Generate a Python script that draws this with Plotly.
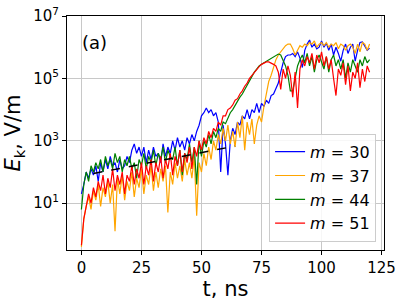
import plotly.graph_objects as go

# time axis, ns
t_ns = list(range(0, 121))

# log10 of E_k (V/m)
log_e_m30 = [1.3, 1.6, 2.0, 1.8, 2.1, 1.9, 2.2, 1.7, 2.3, 2.0,
             2.4, 2.1, 2.5, 2.2, 2.3, 2.0, 2.4, 2.1, 2.2, 2.5,
             2.3, 2.7, 2.9, 2.6, 2.8, 2.5, 2.8, 2.3, 2.7, 2.4,
             2.8, 2.5, 2.6, 2.3, 2.9, 2.5, 2.8, 2.6, 3.0, 2.7,
             3.1, 2.8, 3.0, 2.7, 3.1, 2.9, 3.2, 3.0, 3.3, 3.5,
             3.8, 3.9, 4.05, 3.9, 4.0, 3.8, 3.9, 3.6, 2.0, 3.5,
             2.9, 1.9, 3.0, 3.4, 3.2, 3.6, 3.5, 3.8, 3.7, 4.0,
             3.7, 4.0, 3.9, 4.2, 3.9, 4.2, 4.1, 4.3, 4.2, 4.45,
             4.5, 4.65, 4.85, 5.2, 5.5, 5.7, 5.75, 5.75, 5.8, 5.7,
             5.85, 5.65, 5.35, 5.9, 6.1, 6.23, 6.0, 6.1, 5.95, 6.0,
             6.2, 6.0, 6.13, 5.9, 6.1, 5.75, 6.0, 5.8, 5.55, 5.9,
             6.1, 5.8, 6.0, 6.1, 5.55, 5.9, 6.15, 6.17, 6.05, 5.9,
             5.97]
log_e_m37 = [-0.4, 0.5, 0.9, 1.2, 0.8, 1.4, 1.1, 1.6, 0.9, 1.5,
             1.2, 1.7, 1.0, 1.6, 0.1, 1.8, 1.3, 1.9, 1.1, 1.7,
             1.4, 2.0, 1.2, 1.8, 1.5, 2.1, 1.3, 1.9, 1.6, 2.2,
             1.4, 2.0, 1.5, 2.1, 1.7, 2.2, 0.7, 2.0, 1.6, 2.3,
             1.8, 2.2, 1.7, 2.4, 1.9, 2.3, 1.8, 2.5, 0.6, 2.3,
             2.0, 2.6, 2.2, 2.8, 2.4, 3.0, 2.7, 3.2, 2.9, 3.4,
             3.0, 3.5, 2.9, 3.3, 2.8, 3.6, 3.1, 3.8, 2.7, 3.6,
             3.2, 3.7, 2.9, 3.5, 3.8, 3.6, 4.1, 4.5, 4.9, 5.1,
             5.35, 5.6, 5.75, 5.85, 5.95, 6.05, 6.1, 6.1, 5.95, 5.75,
             5.9, 6.05, 6.0, 6.1, 6.05, 6.15, 6.1, 6.2, 6.0, 6.1,
             6.15, 6.05, 6.15, 6.0, 6.1, 6.05, 6.15, 5.95, 6.1, 6.05,
             5.9, 6.05, 6.1, 6.0, 5.8, 6.1, 5.85, 6.15, 6.1, 5.9,
             6.1]
log_e_m44 = [0.8, 1.6, 2.0, 1.7, 2.2, 2.0, 2.3, 2.1, 2.4, 2.0,
             2.5, 2.2, 2.4, 2.1, 2.6, 2.3, 2.5, 2.0, 2.4, 2.2,
             2.5, 2.1, 2.3, 1.8, 2.4, 2.2, 2.6, 2.1, 2.5, 2.3,
             2.7, 2.2, 2.6, 2.4, 2.8, 2.3, 2.7, 2.5, 2.4, 2.8,
             2.2, 2.7, 1.9, 2.6, 2.4, 2.9, 2.3, 2.8, 1.6, 3.0,
             2.5, 3.0, 2.8, 3.2, 2.9, 3.3, 3.1, 3.4, 3.3, 3.6,
             3.55, 3.75, 3.9, 4.0, 4.15, 4.25, 4.4, 4.5, 4.65, 4.8,
             4.95, 5.05, 5.2, 5.3, 5.4, 5.45, 5.5, 5.55, 5.6, 5.65,
             5.7, 5.75, 5.78, 5.75, 5.6, 5.4, 5.1, 4.6, 4.6, 5.0,
             5.4, 5.6, 5.75, 5.5, 5.8, 5.4, 5.7, 5.2, 5.6, 5.75,
             5.5, 5.3, 5.7, 5.2, 5.6, 5.75, 5.4, 5.6, 5.3, 5.6,
             5.0, 5.5, 5.2, 5.6, 5.4, 5.2, 5.6, 5.4, 5.7, 5.5,
             5.6]
log_e_m51 = [-0.35, 0.5, 0.9, 1.3, 1.0, 1.5, 1.2, 1.7, 1.4, 1.9,
             1.3, 1.8, 1.5, 2.1, 1.4, 1.9, 1.6, 2.0, 1.3, 1.9,
             1.7, 2.2, 1.6, 2.1, 1.8, 2.3, 1.6, 2.2, 1.9, 2.4,
             1.7, 2.3, 2.0, 2.5, 1.8, 2.4, 2.1, 2.6, 1.9, 2.5,
             2.2, 2.7, 2.0, 2.6, 2.3, 2.8, 2.1, 2.8, 2.5, 3.0,
             2.7, 3.1, 2.9, 3.3, 3.1, 3.4, 3.3, 3.6, 3.5, 3.8,
             3.8, 4.0, 4.05, 4.15, 4.3, 4.35, 4.5, 4.6, 4.75, 4.85,
             5.0, 5.1, 5.2, 5.3, 5.38, 5.45, 5.5, 5.53, 5.53, 5.5,
             5.45, 5.4, 5.2, 4.65, 5.3, 5.0, 5.4, 5.1, 4.4, 5.2,
             4.05, 5.3, 5.6, 5.4, 5.7, 5.5, 5.8, 5.3, 5.75, 5.5,
             5.85, 5.4, 5.7, 5.3, 5.6, 5.0, 4.45, 5.3, 5.1, 5.5,
             4.8, 5.4, 4.6, 5.2, 5.0, 5.5, 4.7, 5.3, 4.9, 5.4,
             5.2]

series_names = ["<i>m</i> = 30", "<i>m</i> = 37", "<i>m</i> = 44", "<i>m</i> = 51"]
series_logs = [log_e_m30, log_e_m37, log_e_m44, log_e_m51]
series_colors = ["#0000ff", "#ffa500", "#008000", "#ff0000"]

# fitted exponential growth (dashed black line), endpoints
fit_t = [5, 64]
fit_log_e = [1.95, 2.83]

y_tickvals = [1e1, 1e3, 1e5, 1e7]
y_ticktext = ["10<sup>1</sup>", "10<sup>3</sup>", "10<sup>5</sup>", "10<sup>7</sup>"]
x_tickvals = [0, 25, 50, 75, 100, 125]

fig = go.Figure()
for name, logs, col in zip(series_names, series_logs, series_colors):
    fig.add_trace(go.Scatter(
        x=t_ns, y=[10 ** v for v in logs], mode="lines", name=name,
        line=dict(color=col, width=1.2)))

fig.add_trace(go.Scatter(
    x=fit_t, y=[10 ** v for v in fit_log_e], mode="lines", showlegend=False,
    line=dict(color="black", width=1.5, dash="dash")))

font_family = "DejaVu Sans"
fig.update_layout(
    width=407, height=305,
    margin=dict(l=67, r=23, t=16, b=55),
    plot_bgcolor="white", paper_bgcolor="white",
    font=dict(family=font_family, color="black", size=14),
    legend=dict(x=0.975, y=0.035, xanchor="right", yanchor="bottom",
                bgcolor="rgba(255,255,255,0.85)", bordercolor="#cccccc",
                borderwidth=1, font=dict(size=16, family=font_family),
                itemwidth=30),
    annotations=[dict(text="(a)", x=0.04, y=0.885, xref="paper", yref="paper",
                      xanchor="left", yanchor="middle", showarrow=False,
                      font=dict(size=18, family=font_family))],
)
fig.update_xaxes(
    range=[-6, 126], tickvals=x_tickvals, automargin=False,
    showgrid=True, gridcolor="#c8c8c8", gridwidth=1,
    showline=True, linecolor="black", linewidth=1, mirror=True,
    ticks="outside", ticklen=4, tickcolor="black",
    tickfont=dict(size=15), zeroline=False,
    title=dict(text="t, ns", font=dict(size=21), standoff=4))
fig.update_yaxes(
    type="log", range=[-0.5, 7], tickvals=y_tickvals, ticktext=y_ticktext,
    automargin=False,
    showgrid=True, gridcolor="#c8c8c8", gridwidth=1,
    showline=True, linecolor="black", linewidth=1, mirror=True,
    ticks="outside", ticklen=4, tickcolor="black",
    tickfont=dict(size=15), zeroline=False,
    title=dict(text="<i>E</i><sub>k</sub>, V/m", font=dict(size=21), standoff=6))

fig.write_html("out.html", config={"displayModeBar": False},
               post_script="document.body.style.margin='0';")
